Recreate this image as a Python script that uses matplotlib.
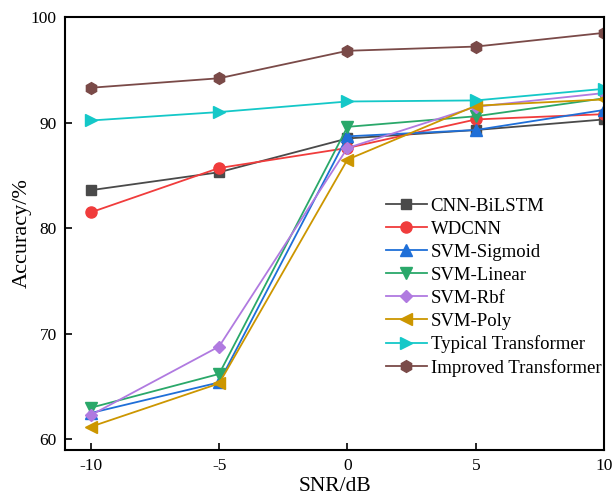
import matplotlib
matplotlib.use("Agg")
import matplotlib.pyplot as plt

snr = [-10, -5, 0, 5, 10]
labels = ["CNN-BiLSTM", "WDCNN", "SVM-Sigmoid", "SVM-Linear",
          "SVM-Rbf", "SVM-Poly", "Typical Transformer", "Improved Transformer"]
cnn_bilstm = [83.6, 85.3, 88.5, 89.3, 90.3]
wdcnn = [81.5, 85.7, 87.6, 90.3, 90.8]
svm_sigmoid = [62.5, 65.4, 88.7, 89.3, 91.2]
svm_linear = [63.0, 66.2, 89.6, 90.6, 92.3]
svm_rbf = [62.3, 68.8, 87.6, 91.5, 92.8]
svm_poly = [61.2, 65.3, 86.5, 91.6, 92.2]
typical_tf = [90.2, 91.0, 92.0, 92.1, 93.2]
improved_tf = [93.3, 94.2, 96.8, 97.2, 98.5]

series = [cnn_bilstm, wdcnn, svm_sigmoid, svm_linear, svm_rbf, svm_poly, typical_tf, improved_tf]
colors = ["#4a4a4a", "#f03c3c", "#1f6fd8", "#2aa86a", "#b07ae0", "#cc9600", "#14c8c8", "#7a4a48"]
markers = ["s", "o", "^", "v", "D", "<", ">", "h"]
msizes = [7.5, 8, 8, 8, 6.5, 8.5, 8.5, 8.5]

plt.rcParams['font.family'] = ['Liberation Serif', 'DejaVu Serif']
plt.rcParams['mathtext.fontset'] = 'stix'

fig = plt.figure(figsize=(6.14, 5.0), dpi=100)
ax = fig.add_axes([0.106, 0.10, 0.878, 0.866])

for y, lab, c, m, ms in zip(series, labels, colors, markers, msizes):
    ax.plot(snr, y, color=c, marker=m, markersize=ms, linewidth=1.3, label=lab,
            clip_on=True)

ax.set_xlim(-11, 10)
ax.set_ylim(59, 100)
ax.set_xticks([-10, -5, 0, 5, 10])
ax.set_xticklabels(["-10", "-5", "0", "5", "10"])
ax.set_yticks([60, 70, 80, 90, 100])
ax.tick_params(direction='in', length=5, width=1.2, labelsize=12.5, pad=6)
for s in ax.spines.values():
    s.set_linewidth(1.5)

ax.set_xlabel("SNR/dB", fontsize=15.5, labelpad=2)
ax.set_ylabel("Accuracy/%", fontsize=16, labelpad=-1)

leg = ax.legend(loc='lower right', bbox_to_anchor=(1.012, 0.147), frameon=False,
                fontsize=13.5, handlelength=2.2, labelspacing=0.31,
                handletextpad=0.2, borderaxespad=0.1)

fig.savefig("out.png", dpi=100)
